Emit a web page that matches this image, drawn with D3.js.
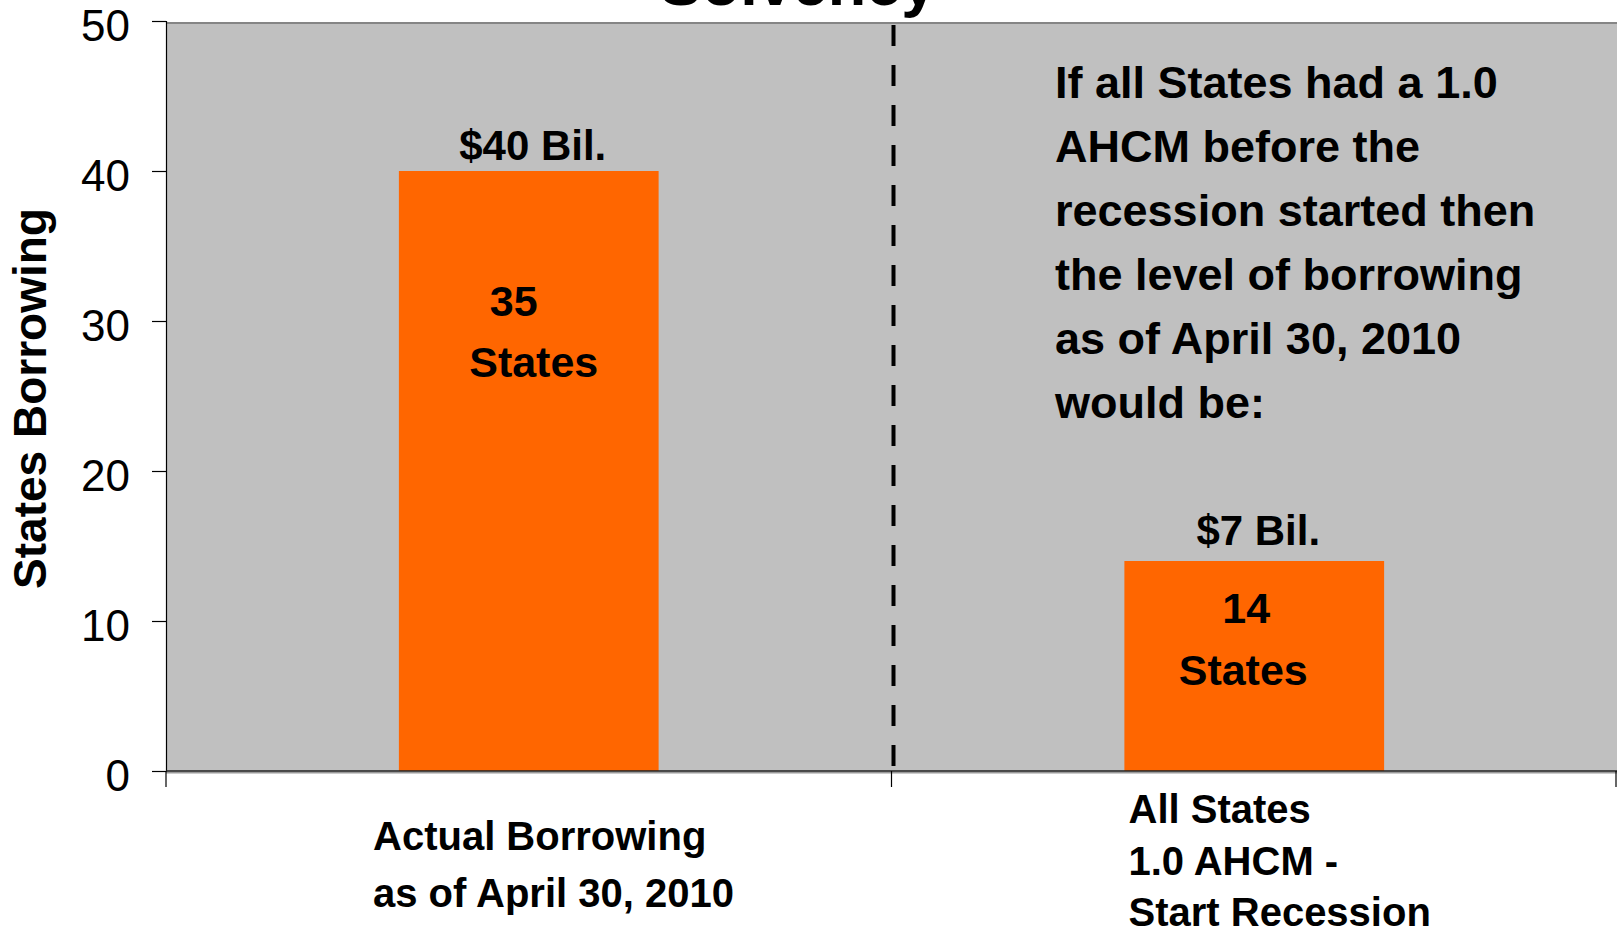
<!DOCTYPE html>
<html>
<head>
<meta charset="utf-8">
<script src="https://cdn.jsdelivr.net/npm/d3@7"></script>
<style>
  html, body { margin: 0; padding: 0; background: #ffffff; }
  svg { display: block; font-family: "Liberation Sans", Arial, sans-serif; }
</style>
</head>
<body>
<svg id="chart" width="1617" height="932"></svg>
<script>
// Categories (multi-line axis labels)
const categories = ["actual", "ahcm"];
const categoryLines = [
  ["Actual Borrowing", "as of April 30, 2010"],
  ["All States", "1.0 AHCM -", "Start Recession"]
];
// Bar heights on the "States Borrowing" axis
const barValues = [40, 14];
// Borrowing amounts shown above the bars (billions of dollars)
const borrowingBillions = [40, 7];
// Number of states borrowing, shown inside the bars
const statesCount = [35, 14];
// Y axis ticks
const yTicks = [0, 10, 20, 30, 40, 50];
// Explanatory note in the right half
const noteLines = [
  "If all States had a 1.0",
  "AHCM before the",
  "recession started then",
  "the level of borrowing",
  "as of April 30, 2010",
  "would be:"
];

const svg = d3.select("#chart");
const plot = { left: 166, right: 1617, top: 22, bottom: 771 };

const x = d3.scaleBand()
  .domain(categories)
  .range([plot.left, plot.right])
  .paddingInner(0)
  .paddingOuter(0);

const y = d3.scaleLinear()
  .domain([0, 50])
  .range([plot.bottom, 21]);

const barWidth = x.bandwidth() * 0.358;

// Plot background
svg.append("rect")
  .attr("x", plot.left).attr("y", plot.top)
  .attr("width", plot.right - plot.left)
  .attr("height", plot.bottom - plot.top)
  .attr("fill", "#c0c0c0");

// Top border of plot area
svg.append("line")
  .attr("x1", plot.left).attr("x2", plot.right)
  .attr("y1", plot.top + 1).attr("y2", plot.top + 1)
  .attr("stroke", "#858585").attr("stroke-width", 2);

// Bars
svg.append("g").selectAll("rect")
  .data(categories)
  .join("rect")
  .attr("x", (d) => x(d) + (x.bandwidth() - barWidth) / 2)
  .attr("y", (d, i) => y(barValues[i]))
  .attr("width", barWidth)
  .attr("height", (d, i) => y(0) - y(barValues[i]))
  .attr("fill", "#ff6600");

// Y axis
const yAxis = svg.append("g")
  .attr("transform", `translate(${plot.left},0)`)
  .call(d3.axisLeft(y).tickValues(yTicks).tickSize(14).tickPadding(22));
yAxis.select(".domain").attr("stroke", "#000").attr("stroke-width", 1.2);
yAxis.selectAll(".tick line").attr("stroke", "#000").attr("stroke-width", 1.2);
yAxis.selectAll(".tick text")
  .attr("font-family", "Liberation Sans, Arial, sans-serif")
  .attr("font-size", 44)
  .attr("dy", "0.44em")
  .attr("fill", "#000");

// X axis: ticks sit on category boundaries
const boundaries = categories.map((d) => x(d)).concat([plot.right - 1]);
svg.append("line")
  .attr("x1", plot.left).attr("x2", plot.right)
  .attr("y1", y(0) + 1.5).attr("y2", y(0) + 1.5)
  .attr("stroke", "#9a9a9a").attr("stroke-width", 2);
svg.append("line")
  .attr("x1", plot.left).attr("x2", plot.right)
  .attr("y1", y(0)).attr("y2", y(0))
  .attr("stroke", "#202020").attr("stroke-width", 1.6);
svg.append("g").selectAll("line")
  .data(boundaries)
  .join("line")
  .attr("x1", (d) => d).attr("x2", (d) => d)
  .attr("y1", y(0)).attr("y2", y(0) + 16)
  .attr("stroke", "#000").attr("stroke-width", 1.2);

// Divider between the two scenarios
svg.append("line")
  .attr("x1", x("ahcm") + 2).attr("x2", x("ahcm") + 2)
  .attr("y1", plot.top + 3).attr("y2", y(0) + 12)
  .attr("stroke", "#000").attr("stroke-width", 4)
  .attr("stroke-dasharray", "21,19");

// Category labels (left-aligned blocks under each band)
const catLayout = [
  { dx: 207, y0: 850, lh: 57, size: 40 },
  { dx: 237, y0: 823, lh: 51.5, size: 40 }
];
categories.forEach((c, i) => {
  const L = catLayout[i];
  const t = svg.append("text")
    .attr("font-weight", "bold")
    .attr("font-size", L.size)
    .attr("fill", "#000");
  categoryLines[i].forEach((line, j) => {
    t.append("tspan")
      .attr("x", x(c) + L.dx)
      .attr("y", L.y0 + j * L.lh)
      .text(line);
  });
});

// Amount labels above the bars
const amountGap = [11, 16];
svg.append("g").selectAll("text")
  .data(categories)
  .join("text")
  .attr("x", (d) => x(d) + x.bandwidth() / 2 + 4)
  .attr("y", (d, i) => y(barValues[i]) - amountGap[i])
  .attr("text-anchor", "middle")
  .attr("font-weight", "bold")
  .attr("font-size", 42)
  .attr("fill", "#000")
  .text((d, i) => `$${borrowingBillions[i]} Bil.`);

// State counts inside the bars
const countLayout = [
  { numDx: -15, wordDx: 5, numDy: 145, wordDy: 206 },
  { numDx: -8, wordDx: -11, numDy: 62, wordDy: 124 }
];
categories.forEach((c, i) => {
  const L = countLayout[i];
  const cx = x(c) + x.bandwidth() / 2;
  const top = y(barValues[i]);
  svg.append("text")
    .attr("x", cx + L.numDx).attr("y", top + L.numDy)
    .attr("text-anchor", "middle")
    .attr("font-weight", "bold").attr("font-size", 43).attr("fill", "#000")
    .text(statesCount[i]);
  svg.append("text")
    .attr("x", cx + L.wordDx).attr("y", top + L.wordDy)
    .attr("text-anchor", "middle")
    .attr("font-weight", "bold").attr("font-size", 43).attr("fill", "#000")
    .text("States");
});

// Explanatory note
const note = svg.append("text")
  .attr("font-weight", "bold")
  .attr("font-size", 45)
  .attr("fill", "#000");
noteLines.forEach((line, j) => {
  note.append("tspan")
    .attr("x", 1055)
    .attr("y", 98 + j * 64)
    .text(line);
});

// Y axis title
svg.append("text")
  .attr("transform", `translate(46,${(plot.top + plot.bottom) / 2 + 2}) rotate(-90)`)
  .attr("text-anchor", "middle")
  .attr("font-weight", "bold")
  .attr("font-size", 46)
  .attr("fill", "#000")
  .text("States Borrowing");

// Chart title (runs off the top edge)
svg.append("text")
  .attr("x", 798)
  .attr("y", 5)
  .attr("text-anchor", "middle")
  .attr("font-weight", "bold")
  .attr("font-size", 63)
  .attr("fill", "#000")
  .text("Solvency");
</script>
</body>
</html>
